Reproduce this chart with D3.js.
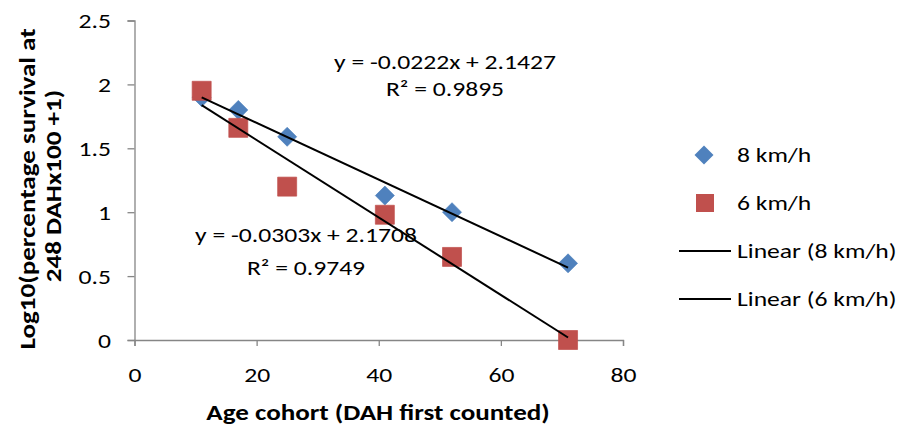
<!DOCTYPE html>
<html>
<head>
<meta charset="utf-8">
<script src="https://cdn.jsdelivr.net/npm/d3@7"></script>
<style>
  body { margin: 0; background: #fff; }
  svg { display: block; }
  text { font-family: Carlito, Lato, "Open Sans", sans-serif; fill: #000; }
</style>
</head>
<body>
<svg id="chart" width="903" height="428"></svg>
<script>
// Age cohorts (days after hatch first counted) and log10 survival per speed
const cohorts = [11, 17, 25, 41, 52, 71];
const speed8 = [1.90, 1.80, 1.59, 1.13, 1.00, 0.60];
const speed6 = [1.95, 1.66, 1.20, 0.98, 0.65, 0.00];
const seriesNames = ["8 km/h", "6 km/h"];
const trendNames = ["Linear (8 km/h)", "Linear (6 km/h)"];
const fitSlopes = [-0.0222, -0.0303];
const fitIntercepts = [2.1427, 2.1708];
const fitR2 = ["0.9895", "0.9749"];
const xTicks = [0, 20, 40, 60, 80];
const yTicks = [0, 0.5, 1, 1.5, 2, 2.5];

const colors = ["#4F81BD", "#C0504D"];
const axisColor = "#868686";
const sx = 1.25;      // horizontal glyph stretch for regular labels
const sxBold = 1.23;  // horizontal glyph stretch for axis titles
const fontSize = 20.5;
const titleSize = 22;

const svg = d3.select("#chart");
const x = d3.scaleLinear().domain([0, 80]).range([134.5, 623]);
const y = d3.scaleLinear().domain([0, 2.5]).range([340, 20.5]);

// Axes
const gx = svg.append("g").attr("transform", `translate(0,${y(0)})`)
  .call(d3.axisBottom(x).tickValues(xTicks).tickSize(6).tickFormat(d3.format("d")));
const gy = svg.append("g").attr("transform", `translate(${x(0)},0)`)
  .call(d3.axisLeft(y).tickValues(yTicks).tickSize(7).tickFormat(d => String(d)));
[gx, gy].forEach(g => {
  g.selectAll("path.domain").attr("stroke", axisColor).attr("stroke-width", 1.3);
  g.selectAll(".tick line").attr("stroke", axisColor).attr("stroke-width", 1.3);
  g.selectAll(".tick text").attr("font-size", fontSize).attr("fill", "#000")
    .style("font-family", "Carlito, Lato, 'Open Sans', sans-serif");
});
gx.selectAll(".tick text").attr("y", 0).attr("dy", "0.35em")
  .attr("transform", `translate(0,35) scale(${sx},1)`);
gy.selectAll(".tick text").attr("x", 0).attr("dy", "0.35em")
  .attr("transform", `translate(-23.5,0) scale(${sx},1)`);

// Fitted trend lines over the cohort range
const series = [speed8, speed6];
const lineGen = d3.line().x(d => x(d[0])).y(d => y(d[1]));
const xMin = d3.min(cohorts), xMax = d3.max(cohorts);

// Markers: diamonds for 8 km/h, squares for 6 km/h
const diamond = r => `M0,${-r}L${r},0L0,${r}L${-r},0Z`;
const square = r => `M${-r},${-r}H${r}V${r}H${-r}Z`;
const shapes = [diamond(9.5), square(9.5)];
series.forEach((vals, i) => {
  const arr = cohorts.map((c, k) => [c, vals[k]]);
  svg.append("g").selectAll("path").data(arr).join("path")
    .attr("d", shapes[i])
    .attr("transform", d => `translate(${x(d[0])},${y(d[1])})`)
    .attr("fill", colors[i]).attr("stroke", colors[i]).attr("stroke-opacity", 0.7);
});

series.forEach((vals, i) => {
  const f = t => fitSlopes[i] * t + fitIntercepts[i];
  svg.append("path")
    .attr("d", lineGen([[xMin, f(xMin)], [xMax, f(xMax)]]))
    .attr("stroke", "#000").attr("stroke-width", 2).attr("fill", "none");
});

// Text helper with horizontal stretch
function label(px, py, str, opts = {}) {
  const s = opts.bold ? sxBold : sx;
  const g = svg.append("g").attr("transform",
    `translate(${px},${py})${opts.rotate ? ` rotate(${opts.rotate})` : ""} scale(${s},1)`);
  return g.append("text")
    .attr("text-anchor", opts.anchor || "middle")
    .attr("dy", "0.35em")
    .attr("font-size", opts.size || fontSize)
    .attr("font-weight", opts.bold ? "bold" : "normal")
    .text(str);
}

// Equation labels
const eqPos = [[445, 62, 89], [306, 235, 268]];
const fmtEq = i => `y = ${fitSlopes[i].toFixed(4)}x + ${fitIntercepts[i].toFixed(4)}`;
eqPos.forEach((p, i) => {
  label(p[0], p[1], fmtEq(i));
  label(p[0], p[2], `R² = ${fitR2[i]}`);
});

// Axis titles
label(378, 412, "Age cohort (DAH first counted)", { bold: true, size: titleSize });
label(27, 189, "Log10(percentage survival at", { bold: true, size: titleSize, rotate: -90 });
label(53, 186, "248 DAHx100 +1)", { bold: true, size: titleSize, rotate: -90 });

// Legend
const legendY = [155, 203, 251, 299];
svg.append("path").attr("d", shapes[0]).attr("transform", `translate(704,${legendY[0]})`)
  .attr("fill", colors[0]);
svg.append("path").attr("d", square(9)).attr("transform", `translate(705,${legendY[1]})`)
  .attr("fill", colors[1]);
[2, 3].forEach(k => {
  svg.append("line").attr("x1", 679).attr("x2", 731)
    .attr("y1", legendY[k]).attr("y2", legendY[k])
    .attr("stroke", "#000").attr("stroke-width", 2);
});
label(737, legendY[0], seriesNames[0], { anchor: "start" });
label(737, legendY[1], seriesNames[1], { anchor: "start" });
label(737, legendY[2], trendNames[0], { anchor: "start" });
label(737, legendY[3], trendNames[1], { anchor: "start" });
</script>
</body>
</html>
